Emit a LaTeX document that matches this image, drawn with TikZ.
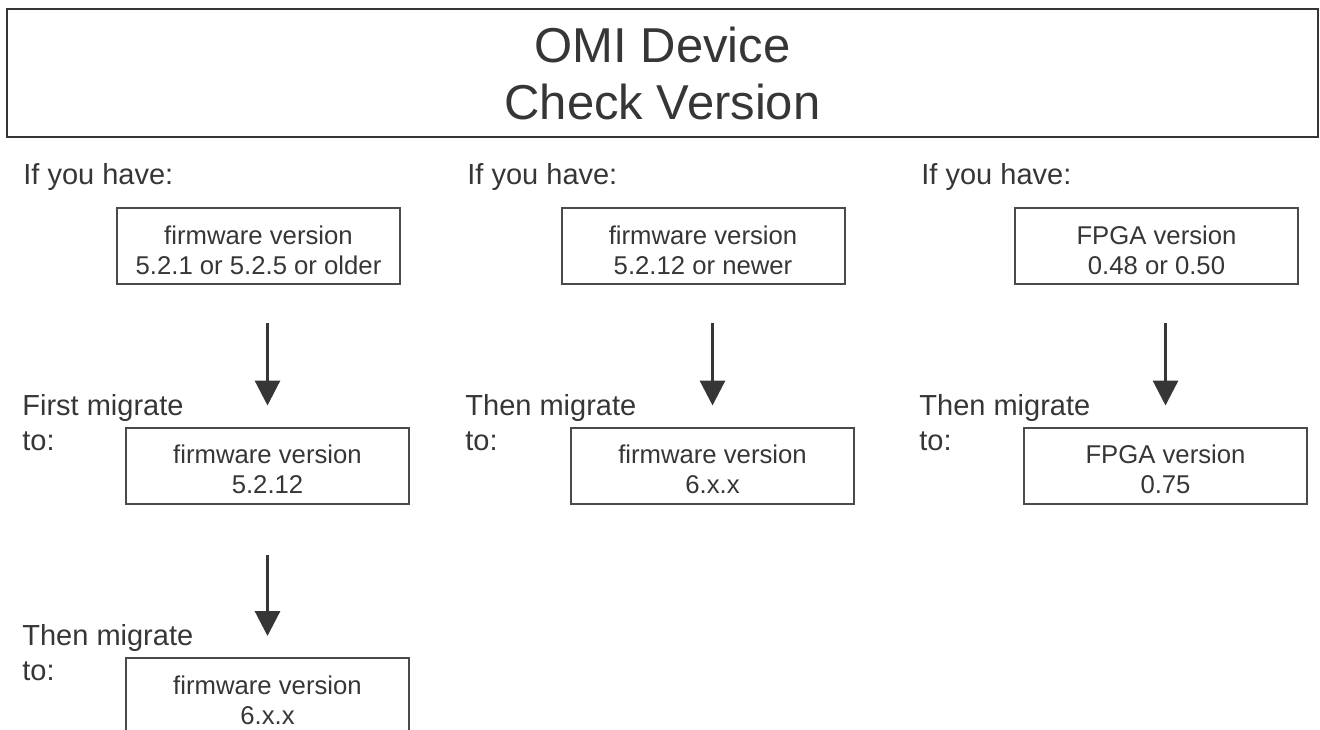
\documentclass[tikz,border=0pt]{standalone}
\usepackage{fontspec}
\setmainfont{Liberation Sans}
\usetikzlibrary{arrows.meta}
\usepackage{xcolor}
\definecolor{inkgray}{HTML}{363636}
\definecolor{rulegray}{HTML}{4A4A4A}

\begin{document}
\begin{tikzpicture}[x=0.5pt,y=-0.5pt,
  verbox/.style={draw=rulegray,line width=1pt,minimum width=141.5pt,minimum height=38pt,inner sep=0pt,align=center,text height=28.5pt,text=inkgray,font=\fontsize{12.85}{15}\selectfont},
  askline/.style={anchor=north west,inner sep=0pt,align=left,text=inkgray,font=\fontsize{14.5}{17.5}\selectfont},
  migrate/.style={-{Triangle[length=12.5pt,width=12.5pt]},line width=1.6pt,draw=inkgray}]
\useasboundingbox (0,0) rectangle (1320,729);
\clip (0,0) rectangle (1320,729);
% heading
\node[draw=inkgray,line width=1.2pt,minimum width=655.5pt,minimum height=64pt,inner sep=0pt,align=center,text=inkgray,font=\fontsize{24.5}{28.5}\selectfont] (head) at (662.5,73) {OMI Device\\Check Version};
% firmware 5.2.5 and older
\node[askline] (have1) at (23,163) {If you have:};
\node[verbox] (fw1) at (258.5,246) {firmware version\\5.2.1 or 5.2.5 or older};
\node[askline] (first1) at (22,394) {First migrate\\to:};
\node[verbox] (fw2) at (267.5,465.5) {firmware version\\5.2.12};
\node[askline] (then1) at (22,624) {Then migrate\\to:};
\node[verbox] (fw3) at (267.5,696) {firmware version\\6.x.x};
\draw[migrate,shorten <=19pt,shorten >=10.5pt] (fw1.south -| fw2.north) -- (fw2.north);
\draw[migrate,shorten <=25pt,shorten >=10.5pt] (fw2.south) -- (fw3.north);
% firmware 5.2.12 and newer
\node[askline] (have2) at (467,163) {If you have:};
\node[verbox] (fwnew) at (703,246) {firmware version\\5.2.12 or newer};
\node[askline] (then2) at (465,394) {Then migrate\\to:};
\node[verbox] (fwsix) at (712.5,465.5) {firmware version\\6.x.x};
\draw[migrate,shorten <=19pt,shorten >=10.5pt] (fwnew.south -| fwsix.north) -- (fwsix.north);
% FPGA
\node[askline] (have3) at (921,163) {If you have:};
\node[verbox] (fpold) at (1156.5,246) {FPGA version\\0.48 or 0.50};
\node[askline] (then3) at (919,394) {Then migrate\\to:};
\node[verbox] (fpnew) at (1165.5,465.5) {FPGA version\\0.75};
\draw[migrate,shorten <=19pt,shorten >=10.5pt] (fpold.south -| fpnew.north) -- (fpnew.north);
\end{tikzpicture}
\end{document}
